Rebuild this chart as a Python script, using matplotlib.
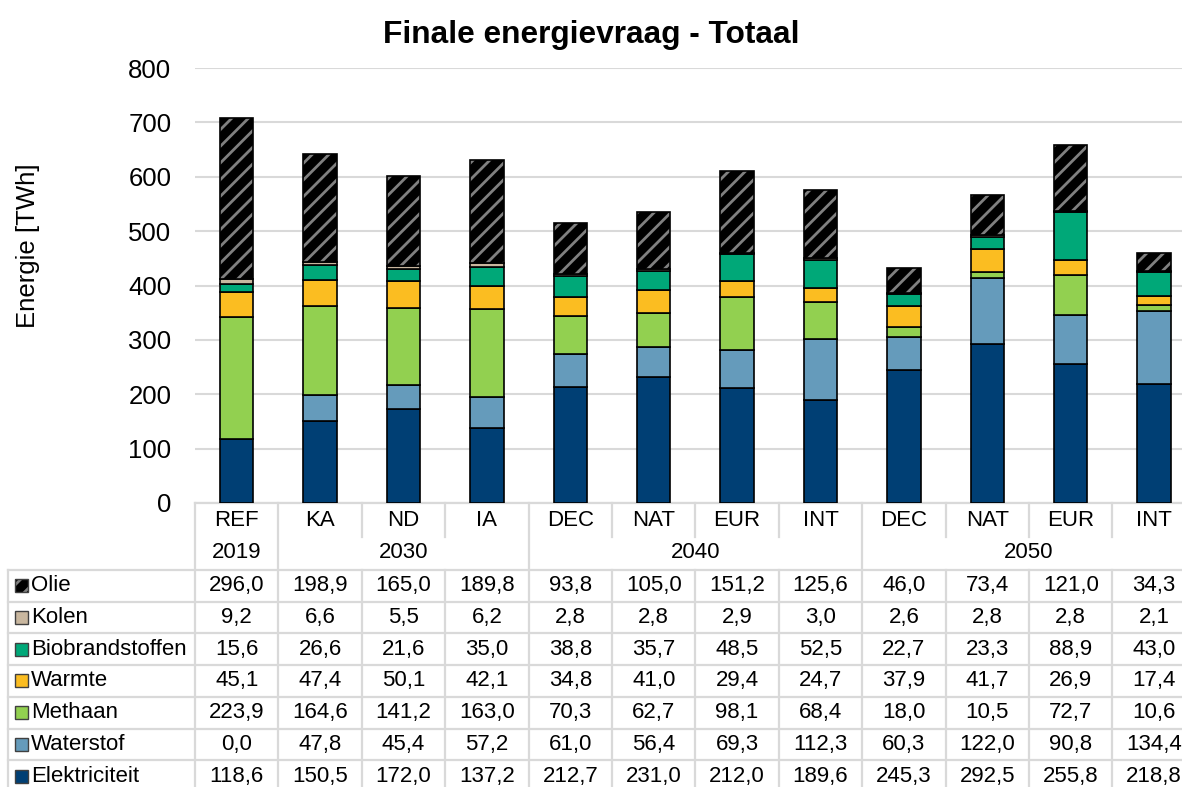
import numpy as np
import matplotlib
matplotlib.use("Agg")
import matplotlib.pyplot as plt
from matplotlib.patches import Rectangle
from matplotlib.transforms import blended_transform_factory

plt.rcParams['font.family'] = ['Liberation Sans', 'DejaVu Sans']
plt.rcParams['hatch.linewidth'] = 2.0

# data
scenarios = ['REF', 'KA', 'ND', 'IA', 'DEC', 'NAT', 'EUR', 'INT', 'DEC', 'NAT', 'EUR', 'INT']
years = ['2019', '2030', '2040', '2050']
year_span = [(0, 0), (1, 3), (4, 7), (8, 11)]

elektriciteit = [118.6, 150.5, 172.0, 137.2, 212.7, 231.0, 212.0, 189.6, 245.3, 292.5, 255.8, 218.8]
waterstof = [0.0, 47.8, 45.4, 57.2, 61.0, 56.4, 69.3, 112.3, 60.3, 122.0, 90.8, 134.4]
methaan = [223.9, 164.6, 141.2, 163.0, 70.3, 62.7, 98.1, 68.4, 18.0, 10.5, 72.7, 10.6]
warmte = [45.1, 47.4, 50.1, 42.1, 34.8, 41.0, 29.4, 24.7, 37.9, 41.7, 26.9, 17.4]
biobrandstoffen = [15.6, 26.6, 21.6, 35.0, 38.8, 35.7, 48.5, 52.5, 22.7, 23.3, 88.9, 43.0]
kolen = [9.2, 6.6, 5.5, 6.2, 2.8, 2.8, 2.9, 3.0, 2.6, 2.8, 2.8, 2.1]
olie = [296.0, 198.9, 165.0, 189.8, 93.8, 105.0, 151.2, 125.6, 46.0, 73.4, 121.0, 34.3]

# stacked bottom -> top
series = [
    ('Elektriciteit', elektriciteit, '#003f74'),
    ('Waterstof', waterstof, '#659bbb'),
    ('Methaan', methaan, '#92d050'),
    ('Warmte', warmte, '#fbbd21'),
    ('Biobrandstoffen', biobrandstoffen, '#00a878'),
    ('Kolen', kolen, '#c9b79f'),
    ('Olie', olie, '#000000'),
]

W, H = 1182, 787
fig = plt.figure(figsize=(W / 100, H / 100), dpi=100)

# table layer in pixel coords
tab = fig.add_axes([0, 0, 1, 1], zorder=0)
tab.set_xlim(0, W)
tab.set_ylim(H, 0)
tab.axis('off')

ax_left, ax_top, ax_bot, col_w = 195, 68, 503, 83.4
ax = fig.add_axes([ax_left / W, 1 - ax_bot / H, 12 * col_w / W, (ax_bot - ax_top) / H], zorder=1)
ax.patch.set_alpha(0)

x = np.arange(len(scenarios))
bottom = np.zeros(len(scenarios))
for name, vals, col in series:
    vals = np.array(vals)
    if name == 'Olie':
        ax.bar(x, vals, 0.4, bottom=bottom, color='black', edgecolor='#808080',
               hatch='//', linewidth=0, zorder=3)
        ax.bar(x, vals, 0.4, bottom=bottom, fill=False, edgecolor='black',
               linewidth=1.2, zorder=4)
    else:
        ax.bar(x, vals, 0.4, bottom=bottom, color=col, edgecolor='black',
               linewidth=1.2, zorder=3)
    bottom += vals

ax.set_xlim(-0.5, 11.5)
ax.set_ylim(0, 800)
ax.set_yticks(range(0, 801, 100))
ax.tick_params(axis='y', length=0, labelsize=18.5, pad=17)
ax.set_xticks([])
ax.yaxis.grid(True, color='#d9d9d9', linewidth=1.5)
ax.set_axisbelow(True)
for s in ax.spines.values():
    s.set_visible(False)

fig.text(591 / W, 1 - 35 / H, 'Finale energievraag - Totaal', ha='center', va='center',
         fontsize=22.8, fontweight='bold')
fig.text(28 / W, 1 - 246 / H, 'Energie [TWh]', rotation=90, ha='center', va='center',
         fontsize=18.5)

# table
tr = blended_transform_factory(ax.transData, tab.transData)
gc = '#d9d9d9'
lw = 1.6
fs = 16
y_cat, y_year = 520, 553
row_top, row_h = 570, 31.7
n_rows = len(series)
row_bot = row_top + n_rows * row_h

def vline(xd, y0, y1):
    tab.plot([xd, xd], [y0, y1], color=gc, lw=lw, transform=tr, clip_on=False, zorder=1)

# category row
tab.plot([-0.5, 11.5], [ax_bot, ax_bot], color=gc, lw=lw, transform=tr, clip_on=False)
for i, s in enumerate(scenarios):
    tab.text(i, y_cat, s, ha='center', va='center', fontsize=fs, transform=tr)
group_edges = [-0.5] + [b + 0.5 for a, b in year_span]
for b in np.arange(-0.5, 12, 1.0):
    if b in group_edges:
        vline(b, ax_bot, row_bot)
    else:
        vline(b, ax_bot, 537)
        vline(b, row_top, row_bot)
for yr, (a, b) in zip(years, year_span):
    tab.text((a + b) / 2, y_year, yr, ha='center', va='center', fontsize=fs, transform=tr)

# data rows (top -> bottom: Olie ... Elektriciteit)
for k in range(n_rows + 1):
    yy = row_top + k * row_h
    tab.plot([8, W], [yy, yy], color=gc, lw=lw, clip_on=False)
tab.plot([8, 8], [row_top, row_bot], color=gc, lw=lw, clip_on=False)

for r, (name, vals, col) in enumerate(reversed(series)):
    yc = row_top + (r + 0.5) * row_h
    if name == 'Olie':
        tab.add_patch(Rectangle((15, yc - 6.5), 13, 13, facecolor='black', edgecolor='#808080',
                                hatch='//', linewidth=0))
        tab.add_patch(Rectangle((15, yc - 6.5), 13, 13, fill=False, edgecolor='#404040', linewidth=1))
    else:
        tab.add_patch(Rectangle((15, yc - 6.5), 13, 13, facecolor=col, edgecolor='#404040', linewidth=1))
    tab.text(31, yc, name, ha='left', va='center', fontsize=fs)
    for i, v in enumerate(vals):
        tab.text(i, yc, f"{v:.1f}".replace('.', ','), ha='center', va='center',
                 fontsize=fs, transform=tr)

fig.savefig('out.png', dpi=100)
